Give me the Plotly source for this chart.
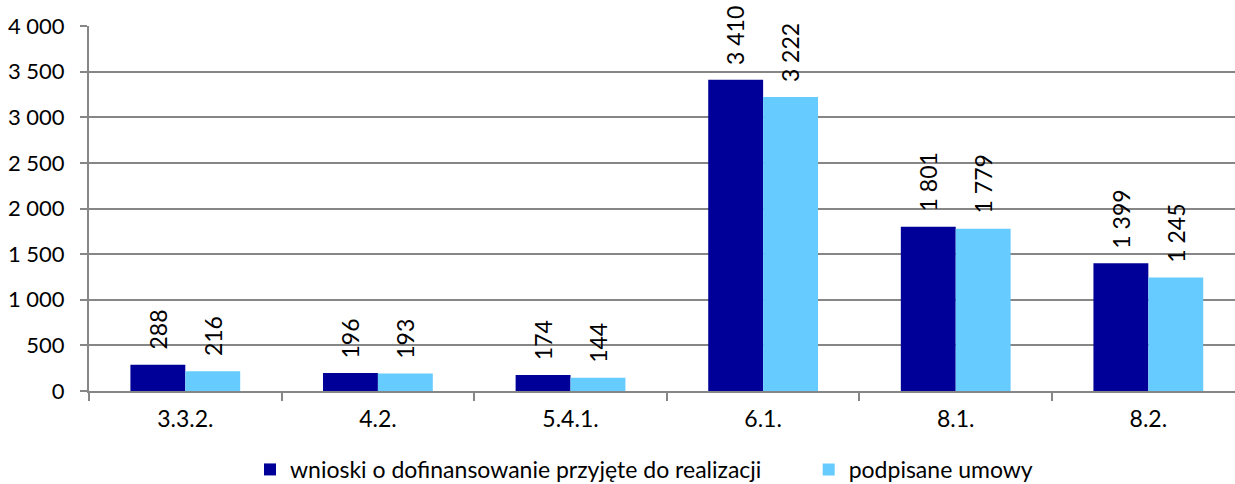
import plotly.graph_objects as go

categories = ["3.3.2.", "4.2.", "5.4.1.", "6.1.", "8.1.", "8.2."]
wnioski = [288, 196, 174, 3410, 1801, 1399]
umowy = [216, 193, 144, 3222, 1779, 1245]
series_names = ["wnioski o dofinansowanie przyjęte do realizacji", "podpisane umowy"]
colors = ["#000099", "#66CCFF"]

FONT = "Lato"
FS = 23
GRID = "#868686"

fig = go.Figure()
for name, vals, col, lg in zip(series_names, [wnioski, umowy], colors, ["legend", "legend2"]):
    fig.add_trace(go.Bar(x=categories, y=vals, name=name, legend=lg,
                         marker=dict(color=col, line=dict(width=0))))

def fmt(v):
    return f"{v:,}".replace(",", " ")

ann = []
for vals, shift in [(wnioski, -27.5), (umowy, 27.5)]:
    for c, v in zip(categories, vals):
        ann.append(dict(x=c, y=v, xshift=shift, yshift=13, text=fmt(v), textangle=-90,
                        showarrow=False, xanchor="center", yanchor="bottom",
                        font=dict(family=FONT, size=FS, color="#000000")))

leg_common = dict(orientation="h", xanchor="left", yref="container", y=0.03, yanchor="middle",
                  font=dict(family=FONT, size=FS, color="#000000"), bgcolor="rgba(0,0,0,0)")

fig.update_layout(
    width=1235, height=484,
    margin=dict(l=89, r=0, t=26, b=93, autoexpand=False),
    plot_bgcolor="white", paper_bgcolor="white",
    barmode="group", bargap=0.43, bargroupgap=0,
    separators=", ",
    font=dict(family=FONT, size=FS, color="#000000"),
    annotations=ann,
    showlegend=True,
    legend=dict(x=0.1405, **leg_common),
    legend2=dict(x=0.628, **leg_common),
    xaxis=dict(type="category", range=[-0.5, 5.45], showline=True, linecolor=GRID, linewidth=2,
               ticks="outside", tickson="boundaries", ticklen=8, tickwidth=2, tickcolor=GRID,
               showgrid=False, tickfont=dict(family=FONT, size=FS), ticklabelstandoff=6),
    yaxis=dict(range=[0, 4000], tickvals=[0, 500, 1000, 1500, 2000, 2500, 3000, 3500, 4000],
               tickformat=",d", showline=True, linecolor=GRID, linewidth=2,
               ticks="outside", ticklen=7, tickwidth=2, tickcolor=GRID,
               showgrid=True, gridcolor=GRID, gridwidth=2, zeroline=False,
               tickfont=dict(family=FONT, size=22), ticklabelstandoff=11),
)

fig.write_html("out.html", config={"displayModeBar": False},
               post_script="document.body.style.margin='0';document.body.style.overflow='hidden';")
